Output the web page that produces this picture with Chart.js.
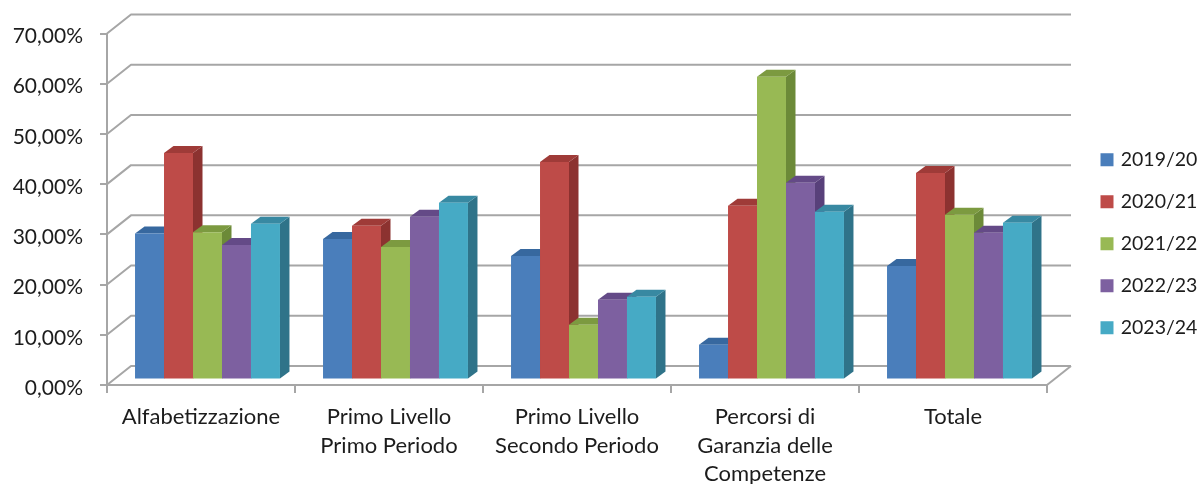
<!DOCTYPE html>
<html><head><meta charset="utf-8">
<style>html,body{margin:0;padding:0;background:#fff}canvas{display:block}</style>
<script src="https://cdn.jsdelivr.net/npm/chart.js@4"></script>
</head><body><canvas id="c" width="1202" height="484"></canvas>
<script>
const categories = ["Alfabetizzazione", ["Primo Livello","Primo Periodo"], ["Primo Livello","Secondo Periodo"], ["Percorsi di","Garanzia delle","Competenze"], "Totale"];
const years = ["2019/20","2020/21","2021/22","2022/23","2023/24"];
const s2019 = [29.1, 28.0, 24.6, 6.9, 22.6];
const s2020 = [45.1, 30.6, 43.3, 34.6, 41.1];
const s2021 = [29.3, 26.4, 10.9, 60.3, 32.8];
const s2022 = [26.8, 32.4, 15.9, 39.2, 29.2];
const s2023 = [31.0, 35.2, 16.5, 33.4, 31.2];
const seriesValues = [s2019, s2020, s2021, s2022, s2023];
const frontColors = ["#4a7ebb","#be4b48","#98b954","#7d60a0","#46aac5"];
const sideColors  = ["#2f5a8c","#8c3230","#6c8a38","#58407a","#2f7389"];
const topColors   = ["#37689f","#9f3b38","#7c9a40","#644a87","#3889a2"];
const lineColor = "#a6a6a6", textColor = "#1c1c1c";
const FONT = "Lato, 'Open Sans', sans-serif";
const wallDx = 24, wallDy = -19;        // back wall offset
const barShiftX = 6.5, barShiftY = -5.5; // bars stand inside the floor
const depthX = 9.5, depthY = -7;         // bar depth

const threeD = {
  id: "threeD",
  beforeDatasetsDraw(chart) {
    const {ctx, scales:{x, y}} = chart;
    const L = x.left, R = x.right;
    ctx.save();
    ctx.strokeStyle = lineColor; ctx.lineWidth = 2; ctx.lineJoin = "round";
    y.ticks.forEach(t => {
      const p = y.getPixelForValue(t.value);
      ctx.beginPath();
      ctx.moveTo(L, p); ctx.lineTo(L + wallDx, p + wallDy); ctx.lineTo(R + wallDx, p + wallDy);
      ctx.stroke();
    });
    const b = y.getPixelForValue(0);
    ctx.beginPath();
    ctx.moveTo(R, b); ctx.lineTo(R + wallDx, b + wallDy);
    ctx.stroke();
    ctx.translate(barShiftX, barShiftY);
    chart.getSortedVisibleDatasetMetas().slice().sort((a,c) => a.index - c.index).forEach(meta => {
      const i = meta.index;
      meta.data.forEach(bar => {
        const l = bar.x - bar.width/2, r = bar.x + bar.width/2, t = bar.y, bt = bar.base;
        ctx.fillStyle = sideColors[i];
        ctx.beginPath();
        ctx.moveTo(r, bt); ctx.lineTo(r + depthX, bt + depthY); ctx.lineTo(r + depthX, t + depthY); ctx.lineTo(r, t);
        ctx.closePath(); ctx.fill();
        ctx.fillStyle = topColors[i];
        ctx.beginPath();
        ctx.moveTo(l, t); ctx.lineTo(l + depthX, t + depthY); ctx.lineTo(r + depthX, t + depthY); ctx.lineTo(r, t);
        ctx.closePath(); ctx.fill();
      });
      meta.controller.draw();
    });
    ctx.restore();
    return false;
  },
  afterLayout(chart) {
    const lg = chart.legend, pad = lg.options.labels.padding;
    const h = lg.height, w = lg.width;
    lg.left = 1103 - pad; lg.right = lg.left + w;
    lg.top = 150 - pad; lg.bottom = lg.top + h + 40;
  }
};

new Chart(document.getElementById("c"), {
  type: "bar",
  plugins: [threeD],
  data: {
    labels: categories,
    datasets: years.map((yr, i) => ({
      label: yr, data: seriesValues[i],
      backgroundColor: frontColors[i], borderWidth: 0,
      categoryPercentage: 0.771, barPercentage: 1
    }))
  },
  options: {
    responsive: false, animation: false, devicePixelRatio: 1,
    layout: { padding: { left: 0, top: 33.5, right: 155, bottom: 0 } },
    plugins: {
      tooltip: { enabled: false },
      legend: {
        position: "chartArea", align: "start",
        labels: { boxWidth: 8, boxHeight: 8, padding: 22.5, color: textColor, font: { family: FONT, size: 19.5 },
          generateLabels(chart) {
            return Chart.defaults.plugins.legend.labels.generateLabels(chart).map((it, i) => {
              it.strokeStyle = frontColors[i]; it.lineWidth = 5; return it;
            });
          } }
      }
    },
    scales: {
      x: {
        afterFit(s) { s.height = 99; },
        border: { color: lineColor, width: 2 },
        grid: { drawOnChartArea: false, color: lineColor, lineWidth: 2, tickLength: 8 },
        ticks: { color: textColor, maxRotation: 0, minRotation: 0, autoSkip: false, padding: 10, font: { family: FONT, size: 22, lineHeight: 1.29 } }
      },
      y: {
        min: 0, max: 70,
        afterFit(s) { s.width = 107; },
        border: { color: lineColor, width: 2 },
        grid: { drawOnChartArea: false, color: lineColor, lineWidth: 2, tickLength: 7 },
        ticks: { stepSize: 10, color: textColor, padding: 17, labelOffset: 3,
          font: { family: FONT, size: 21 },
          callback: v => v.toFixed(2).replace(".", ",") + "%" }
      }
    }
  }
});
</script></body></html>
